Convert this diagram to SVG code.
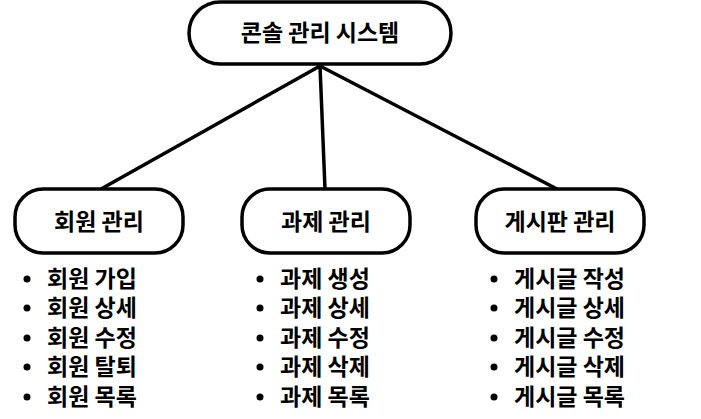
<svg xmlns="http://www.w3.org/2000/svg" width="701" height="419" viewBox="0 0 701 419">
<style>
.box{fill:#fff;stroke:#000;stroke-width:3.5}
.t{font-family:"Noto Sans CJK KR","Noto Sans",sans-serif;font-weight:bold;font-size:23px;fill:#000}
.c{text-anchor:middle}
.ln{stroke:#000;stroke-width:3.5;fill:none}
</style>
<rect width="701" height="419" fill="#fff"/>
<g id="connectors">
<line class="ln" x1="320" y1="66" x2="101" y2="189"/>
<line class="ln" x1="320" y1="66" x2="325" y2="189"/>
<line class="ln" x1="320" y1="66" x2="557" y2="189"/>
</g>
<g id="root">
<rect class="box" x="189" y="2" width="262" height="62" rx="31"/>
<text class="t c" x="320" y="41">콘솔 관리 시스템</text>
</g>
<g id="member">
<rect class="box" x="15" y="189" width="168" height="64" rx="28"/>
<text class="t c" x="99" y="230">회원 관리</text>
</g>
<g id="task">
<rect class="box" x="242" y="189" width="168" height="64" rx="28"/>
<text class="t c" x="326" y="230">과제 관리</text>
</g>
<g id="board">
<rect class="box" x="476" y="189" width="168" height="64" rx="28"/>
<text class="t c" x="560" y="230">게시판 관리</text>
</g>
<g id="member-list">
<circle cx="27" cy="279" r="3.5"/><text class="t" x="47" y="287">회원 가입</text>
<circle cx="27" cy="308" r="3.5"/><text class="t" x="47" y="316">회원 상세</text>
<circle cx="27" cy="338" r="3.5"/><text class="t" x="47" y="346">회원 수정</text>
<circle cx="27" cy="367" r="3.5"/><text class="t" x="47" y="375">회원 탈퇴</text>
<circle cx="27" cy="397" r="3.5"/><text class="t" x="47" y="405">회원 목록</text>
</g>
<g id="task-list">
<circle cx="260" cy="279" r="3.5"/><text class="t" x="280" y="287">과제 생성</text>
<circle cx="260" cy="308" r="3.5"/><text class="t" x="280" y="316">과제 상세</text>
<circle cx="260" cy="338" r="3.5"/><text class="t" x="280" y="346">과제 수정</text>
<circle cx="260" cy="367" r="3.5"/><text class="t" x="280" y="375">과제 삭제</text>
<circle cx="260" cy="397" r="3.5"/><text class="t" x="280" y="405">과제 목록</text>
</g>
<g id="board-list">
<circle cx="494" cy="279" r="3.5"/><text class="t" x="514" y="287">게시글 작성</text>
<circle cx="494" cy="308" r="3.5"/><text class="t" x="514" y="316">게시글 상세</text>
<circle cx="494" cy="338" r="3.5"/><text class="t" x="514" y="346">게시글 수정</text>
<circle cx="494" cy="367" r="3.5"/><text class="t" x="514" y="375">게시글 삭제</text>
<circle cx="494" cy="397" r="3.5"/><text class="t" x="514" y="405">게시글 목록</text>
</g>
</svg>
